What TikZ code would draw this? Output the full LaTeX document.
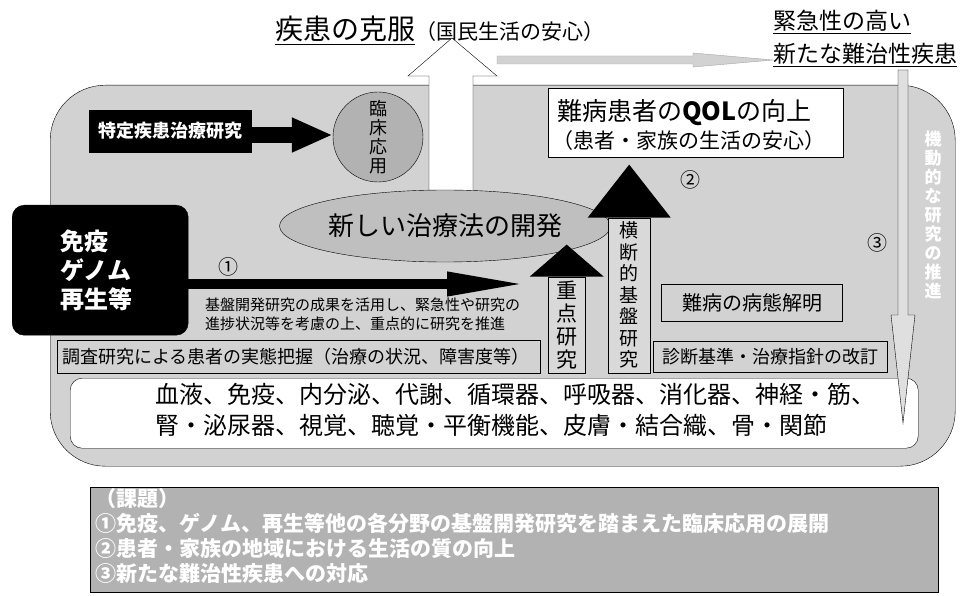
\documentclass[tikz,border=0pt]{standalone}
\usepackage{fontspec}
\setmainfont{Noto Sans CJK JP}
\usetikzlibrary{arrows.meta,calc,shapes.geometric}
\newcommand\fz[2]{\fontsize{#1}{#2}\selectfont}
\begin{document}
\begin{tikzpicture}[x=1pt,y=-1pt,
  txt/.style={inner sep=0pt},
  plainbox/.style={draw, inner sep=0pt},
  upshaft/.style={draw, fill=gray!30, anchor=south west, inner sep=0pt, align=center},
  circnum/.style={inner sep=0pt, font=\fz{20}{22}},
]
\useasboundingbox (0,0) rectangle (964,596);
\fill[white] (0,0) rectangle (964,596);

% main frame
\node[draw, fill=gray!35, rounded corners=55pt, minimum width=905pt, minimum height=381pt, anchor=north west, inner sep=0pt] (frame) at (50,85) {};

% title
\node[txt, anchor=base west] (title) at (275,40) {\fz{28}{30}\underline{疾患の克服}\fz{21}{24}（国民生活の安心）};

% urgent text
\node[txt, anchor=north west, align=left, font=\fz{23}{33}] (urgent) at (773,10) {\underline{緊急性の高い}\\\underline{新たな難治性疾患}};

% big white up arrow
\draw[fill=white] (429,195) -- (429,76) -- (408,76) -- (452,38) -- (497,76) -- (473,76) -- (473,195);

% grey arrow to urgent
\coordinate (ua) at (497,60);
\draw[gray!70, fill=gray!35] ($(ua)+(0,-4)$) -- (693,56) -- (693,53) -- (urgent.west |- ua) -- (693,67) -- (693,64) -- ($(ua)+(0,4)$) -- cycle;

% QOL box
\node[draw, fill=white, anchor=north west, minimum width=295pt, minimum height=69pt, inner sep=0pt] (qol) at (548,88) {};
\node[txt, anchor=west, font=\fz{25}{28}] (qolA) at (557,113) {難病患者の\textbf{QOL}の向上};
\node[txt, anchor=west, font=\fz{21}{24}] (qolB) at (552,141) {（患者・家族の生活の安心）};

% tokutei box
\node[draw, fill=black, minimum width=162pt, minimum height=42pt, text=white, font=\bfseries\fz{18}{20}, inner sep=0pt] (tokutei) at (170,131) {特定疾患治療研究};

% circle rinsho
\node[circle, draw, fill=gray!60, minimum size=90pt, inner sep=0pt, align=center, font=\fz{18}{19}] (rinsho) at (378,137) {臨\\床\\応\\用};

\draw[line width=16pt, -{Triangle[length=41pt 0 0, width=32pt 0 0]}] ([yshift=-4pt]tokutei.east) -- ([yshift=-4pt]tokutei.east -| rinsho.west);

% ellipse
\node[ellipse, draw, fill=gray!50, minimum width=285pt, minimum height=72pt, inner sep=0pt, font=\fz{26}{28}] (newth) at (445,226) {新しい治療法の開発};

% meneki box
\node[draw, fill=black, rounded corners=12pt, minimum width=176pt, minimum height=130pt, anchor=north west, inner sep=0pt] (meneki) at (12,205) {};
\node[txt, anchor=west, align=left, text=white, font=\bfseries\fz{24}{29}] (menekiT) at (60,270) {免疫\\ゲノム\\再生等};

% arrow 1
\coordinate (a1end) at (527,284);
\draw[line width=10pt, -{Triangle[length=80pt 0 0, width=22pt 0 0]}] (meneki.east |- a1end) -- (a1end);
\node[circnum] (c1) at (228,267) {①};

% explanation
\node[txt, anchor=north west, align=left, font=\fz{15}{19}] (expl) at (205,298) {基盤開発研究の成果を活用し、緊急性や研究の\\進捗状況等を考慮の上、重点的に研究を推進};

% chosa box
\node[plainbox, anchor=north west, minimum width=483pt, minimum height=33pt] (chosa) at (57,340) {};
\node[txt, anchor=west, font=\fz{18}{20}] (chosaT) at (62,357) {調査研究による患者の実態把握（治療の状況、障害度等）};

% juten up arrow
\node[upshaft, minimum width=37pt, minimum height=96pt, font=\fz{21}{23}] (juten) at (548,373) {重\\点\\研\\究};
\fill ($(juten.north)+(-37,0)$) -- ($(juten.north)+(37,0)$) -- ($(juten.north)+(0,-32)$) -- cycle;

% oudan up arrow
\node[upshaft, minimum width=42pt, minimum height=155pt, font=\fz{19}{21.5}] (oudan) at (608,373) {横\\断\\的\\基\\盤\\研\\究};
\fill ($(oudan.north)+(-41.5,0)$) -- ($(oudan.north)+(41.5,0)$) -- ($(oudan.north)+(0,-53)$) -- cycle;

% small boxes
\node[plainbox, minimum width=181pt, minimum height=37pt, font=\fz{20}{22}] (byotai) at (752,303) {難病の病態解明};
\node[plainbox, minimum width=234pt, minimum height=31pt, font=\fz{18}{20}] (shindan) at (770,357) {診断基準・治療指針の改訂};

\node[circnum] (c2) at (690,180) {②};
\node[circnum] (c3) at (877,243) {③};

% organs box
\node[draw, fill=white, rounded corners=12pt, anchor=north west, minimum width=848pt, minimum height=70pt, inner sep=0pt] (organs) at (70,378) {};
\node[txt, anchor=north west, align=left, font=\fz{24}{31}] (organsT) at (155,383) {血液、免疫、内分泌、代謝、循環器、呼吸器、消化器、神経・筋、\\腎・泌尿器、視覚、聴覚・平衡機能、皮膚・結合織、骨・関節};

% down arrow 3
\draw[fill=gray!25] (898,70) -- (898,315) -- (891,315) -- (903,423) -- (915,315) -- (908,315) -- (908,70) -- cycle;

% right vertical text
\node[txt, align=center, text=white, font=\bfseries\fz{17}{19}] (kido) at (933,215) {機\\動\\的\\な\\研\\究\\の\\推\\進};

% kadai box
\node[draw, fill=gray!60, anchor=north west, minimum width=848pt, minimum height=105pt, inner sep=0pt] (kadai) at (90,487) {};
\node[txt, anchor=north west, align=left, text=white, font=\bfseries\fz{21}{25}] (kadaiT) at (95,488) {（課題）\\①免疫、ゲノム、再生等他の各分野の基盤開発研究を踏まえた臨床応用の展開\\②患者・家族の地域における生活の質の向上\\③新たな難治性疾患への対応};
\end{tikzpicture}
\end{document}
